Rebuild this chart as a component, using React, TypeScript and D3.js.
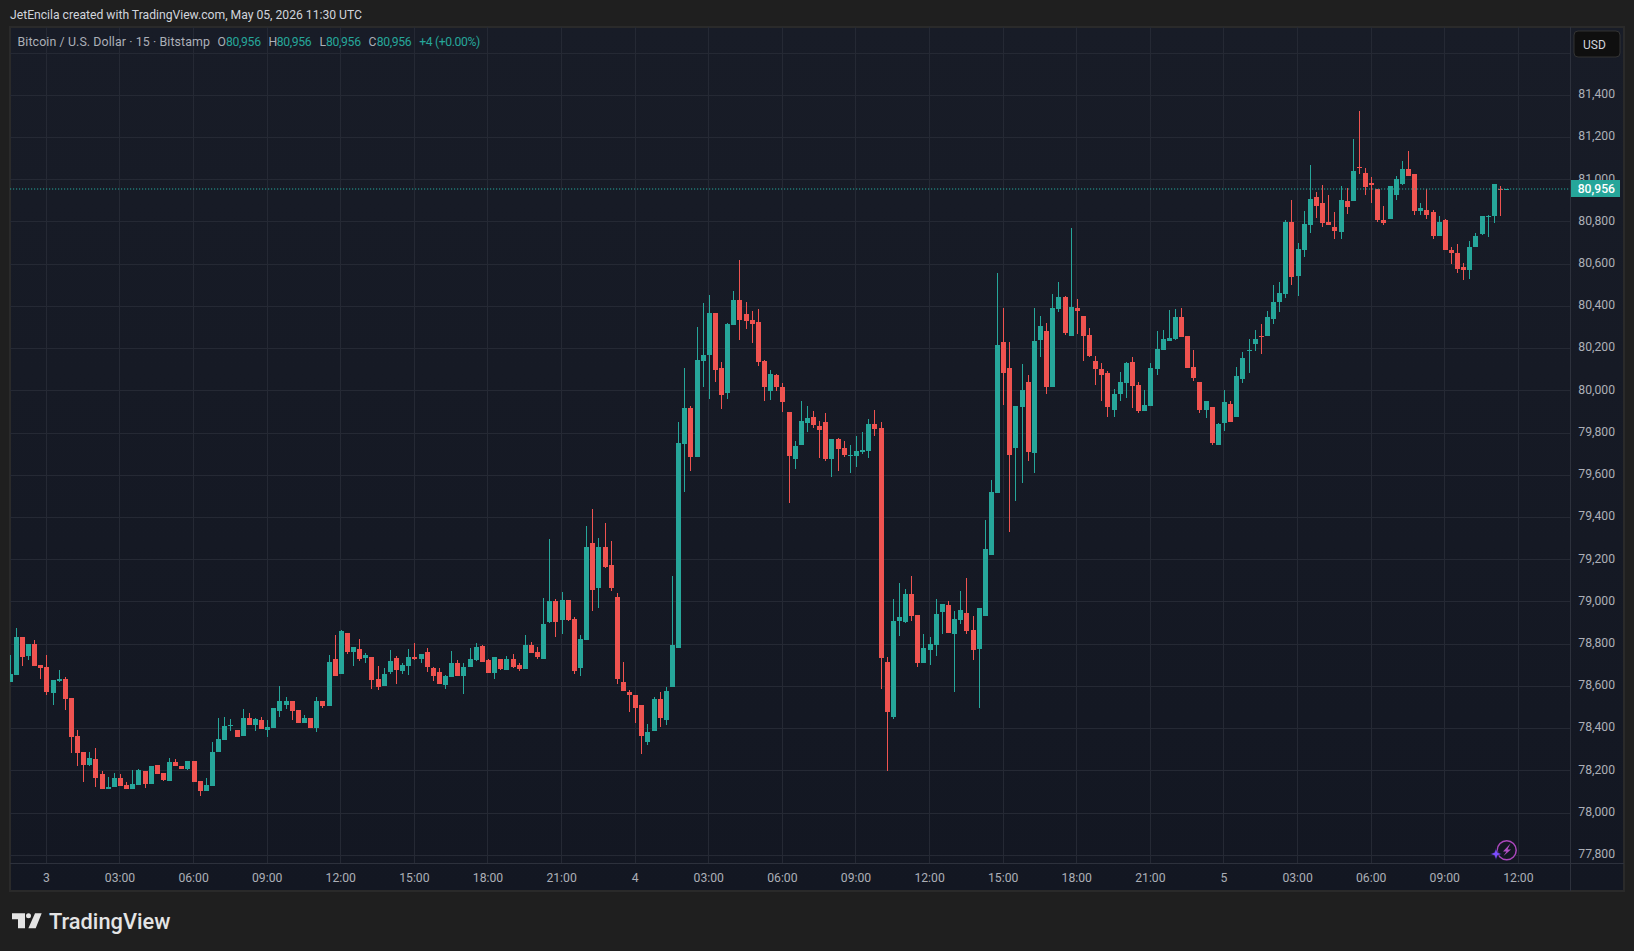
import * as d3 from 'd3';

const opens = [
  78621, 78654, 78835, 78744, 78802, 78702, 78692, 78568, 78625, 78635, 78544, 78363, 78287, 78230, 78254, 78187,
  78116, 78125, 78164, 78135, 78116, 78135, 78197, 78140, 78230, 78192, 78154, 78240, 78225, 78211, 78249, 78154,
  78106, 78130, 78287, 78344, 78411, 78392, 78363, 78449, 78416, 78440, 78392, 78402, 78483, 78511, 78530, 78487,
  78425, 78449, 78402, 78530, 78506, 78730, 78659, 78854, 78763, 78778, 78735, 78740, 78635, 78602, 78668, 78735,
  78673, 78697, 78740, 78730, 78764, 78687, 78668, 78606, 78645, 78711, 78649, 78692, 78725, 78792, 78725, 78664,
  78730, 78678, 78730, 78702, 78683, 78797, 78764, 78730, 78906, 79006, 78916, 79011, 78921, 78687, 78821, 79278,
  79068, 79259, 79173, 79025, 78621, 78573, 78559, 78511, 78335, 78387, 78540, 78440, 78597, 78783, 79749, 79921,
  79687, 80140, 80168, 80368, 80106, 79992, 80311, 80430, 80363, 80335, 80325, 80140, 79997, 80073, 80020, 79901,
  79678, 79744, 79849, 79878, 79835, 79854, 79678, 79773, 79730, 79692, 79692, 79711, 79716, 79844, 79825, 78716,
  78455, 78910, 78905, 79038, 78939, 78711, 78773, 78796, 78953, 78986, 78849, 78915, 78948, 78868, 78777, 78934,
  79223, 79516, 80230, 80106, 79730, 79925, 80040, 79706, 80240, 80283, 80016, 80387, 80444, 80259, 80392, 80354,
  80263, 80140, 80102, 80083, 79911, 79983, 80035, 80135, 80030, 79906, 79930, 80102, 80192, 80235, 80244, 80349,
  80259, 80111, 80044, 79911, 79925, 79745, 79849, 79940, 79878, 80054, 80187, 80221, 80259, 80259, 80340, 80421,
  80459, 80802, 80545, 80669, 80788, 80916, 80888, 80802, 80778, 80754, 80897, 80897, 81059, 81030, 80983, 80954,
  80811, 80816, 80930, 80978, 81049, 81026, 80850, 80859, 80845, 80735, 80811, 80669, 80654, 80588, 80573, 80683,
  80745, 80826, 80826, 80954, 80956,
];
const highs = [
  78749, 78878, 78835, 78802, 78821, 78702, 78749, 78630, 78678, 78644, 78544, 78392, 78287, 78287, 78306, 78197,
  78173, 78192, 78183, 78145, 78202, 78211, 78197, 78225, 78230, 78192, 78259, 78254, 78225, 78249, 78249, 78154,
  78168, 78335, 78449, 78454, 78444, 78392, 78492, 78473, 78449, 78454, 78440, 78497, 78602, 78549, 78530, 78487,
  78463, 78449, 78549, 78530, 78749, 78844, 78868, 78854, 78787, 78825, 78759, 78740, 78697, 78687, 78773, 78744,
  78711, 78778, 78806, 78754, 78783, 78692, 78687, 78654, 78768, 78725, 78711, 78783, 78806, 78797, 78730, 78740,
  78730, 78745, 78754, 78711, 78845, 78811, 78787, 79021, 79297, 79016, 79049, 79011, 78930, 78845, 79359, 79440,
  79302, 79373, 79287, 79043, 78716, 78583, 78559, 78511, 78421, 78549, 78573, 78597, 79125, 79854, 80106, 79930,
  80301, 80416, 80454, 80368, 80135, 80320, 80473, 80620, 80420, 80378, 80387, 80144, 80097, 80078, 80035, 79901,
  79763, 79954, 79930, 79906, 79859, 79897, 79773, 79778, 79763, 79744, 79787, 79806, 79868, 79911, 79854, 78740,
  79014, 79090, 79062, 79124, 78939, 78849, 78834, 79014, 78991, 79005, 78958, 79052, 79114, 78934, 78972, 79389,
  79579, 80559, 80392, 80230, 79930, 80125, 80073, 80392, 80354, 80321, 80459, 80516, 80449, 80773, 80435, 80354,
  80297, 80163, 80130, 80092, 80011, 80087, 80135, 80159, 80040, 80002, 80130, 80282, 80287, 80382, 80387, 80392,
  80259, 80192, 80044, 79954, 79925, 79849, 80002, 79954, 80111, 80183, 80244, 80287, 80316, 80378, 80502, 80516,
  80807, 80902, 80702, 80854, 81069, 80940, 80973, 80930, 80845, 80969, 80959, 81192, 81326, 81054, 81011, 80954,
  80878, 80969, 81016, 81088, 81135, 81026, 80892, 80954, 80859, 80826, 80816, 80683, 80697, 80607, 80711, 80750,
  80830, 80835, 80978, 80969, 80956,
];
const lows = [
  78621, 78654, 78697, 78725, 78697, 78635, 78559, 78511, 78621, 78487, 78283, 78221, 78149, 78225, 78125, 78116,
  78116, 78125, 78130, 78116, 78116, 78135, 78121, 78140, 78187, 78154, 78154, 78221, 78211, 78206, 78149, 78083,
  78106, 78130, 78287, 78344, 78387, 78359, 78363, 78416, 78387, 78397, 78359, 78402, 78454, 78492, 78440, 78425,
  78425, 78402, 78383, 78497, 78506, 78649, 78659, 78754, 78697, 78721, 78711, 78587, 78583, 78602, 78659, 78611,
  78659, 78654, 78725, 78711, 78668, 78625, 78611, 78587, 78645, 78649, 78564, 78692, 78721, 78716, 78664, 78635,
  78678, 78678, 78687, 78673, 78683, 78759, 78730, 78730, 78902, 78835, 78849, 78911, 78659, 78649, 78821, 78959,
  78973, 79159, 79054, 78611, 78578, 78478, 78426, 78278, 78321, 78387, 78407, 78416, 78597, 78783, 79521, 79621,
  79687, 80020, 79963, 80044, 79916, 79963, 80311, 80240, 80292, 80225, 80116, 79954, 79959, 80001, 79901, 79468,
  79630, 79744, 79806, 79825, 79682, 79668, 79592, 79621, 79687, 79611, 79640, 79702, 79682, 79787, 78588, 78199,
  78446, 78839, 78901, 78910, 78692, 78711, 78702, 78744, 78849, 78853, 78574, 78896, 78849, 78725, 78498, 78934,
  79223, 79516, 79935, 79330, 79478, 79564, 79668, 79611, 80159, 79987, 80016, 80373, 80263, 80259, 80268, 80140,
  80159, 80030, 79954, 79878, 79878, 79954, 79964, 79921, 79897, 79906, 79930, 80073, 80192, 80235, 80240, 80254,
  80106, 80049, 79897, 79873, 79745, 79745, 79811, 79854, 79878, 80035, 80083, 80187, 80173, 80259, 80316, 80373,
  80440, 80502, 80450, 80635, 80750, 80821, 80778, 80788, 80721, 80721, 80840, 80897, 81026, 80926, 80892, 80802,
  80788, 80816, 80902, 80973, 81016, 80835, 80835, 80816, 80721, 80735, 80669, 80602, 80559, 80526, 80531, 80683,
  80740, 80730, 80797, 80826, 80956,
];
const closes = [
  78659, 78835, 78740, 78802, 78697, 78687, 78573, 78630, 78635, 78540, 78359, 78283, 78230, 78259, 78164, 78116,
  78125, 78168, 78130, 78116, 78140, 78206, 78140, 78221, 78187, 78159, 78240, 78221, 78211, 78249, 78149, 78106,
  78135, 78287, 78349, 78411, 78416, 78359, 78449, 78416, 78444, 78397, 78406, 78497, 78530, 78530, 78483, 78425,
  78449, 78402, 78530, 78506, 78716, 78649, 78863, 78763, 78787, 78730, 78749, 78630, 78597, 78659, 78721, 78678,
  78702, 78740, 78730, 78754, 78692, 78649, 78611, 78649, 78711, 78649, 78692, 78730, 78787, 78716, 78664, 78740,
  78683, 78730, 78692, 78683, 78797, 78759, 78740, 78897, 79006, 78906, 79011, 78916, 78673, 78825, 79259, 79059,
  79259, 79168, 79064, 78635, 78578, 78559, 78497, 78364, 78383, 78540, 78449, 78578, 78797, 79754, 79921, 79687,
  80144, 80168, 80368, 80097, 79982, 80316, 80430, 80335, 80330, 80316, 80135, 80020, 80078, 80016, 79949, 79692,
  79740, 79859, 79873, 79840, 79816, 79678, 79773, 79725, 79697, 79697, 79716, 79721, 79844, 79821, 78735, 78479,
  78910, 78929, 79038, 78934, 78711, 78782, 78801, 78943, 78991, 78853, 78920, 78962, 78863, 78773, 78972, 79251,
  79522, 80216, 80083, 79697, 79930, 80006, 79711, 80235, 80306, 80016, 80392, 80444, 80273, 80397, 80378, 80259,
  80163, 80102, 80073, 79925, 79987, 80040, 80130, 80025, 79906, 79935, 80106, 80197, 80244, 80249, 80349, 80254,
  80106, 80059, 79911, 79954, 79754, 79844, 79945, 79854, 80068, 80154, 80192, 80244, 80254, 80349, 80421, 80464,
  80802, 80540, 80673, 80792, 80911, 80878, 80797, 80788, 80759, 80902, 80869, 81040, 81054, 80964, 80973, 80811,
  80797, 80969, 81002, 81049, 81016, 80854, 80864, 80831, 80735, 80802, 80669, 80654, 80578, 80573, 80683, 80735,
  80830, 80830, 80978, 80950, 80956,
];

const priceTicks = [77800, 78000, 78200, 78400, 78600, 78800, 79000, 79200, 79400, 79600, 79800, 80000, 80200, 80400, 80600, 80800, 81000, 81200, 81400];
const lastPrice = 80956;

const firstBar = new Date(Date.UTC(2026, 4, 2, 22, 30));
const lastBar = new Date(Date.UTC(2026, 4, 5, 11, 30));
const firstTick = new Date(Date.UTC(2026, 4, 3, 0, 0));
const tickEnd = new Date(Date.UTC(2026, 4, 5, 12, 1));

const W = 1634;
const H = 951;
const plotL = 10;
const plotR = 1570;
const plotT = 27;
const plotB = 863;
const panelR = 1624;
const panelB = 891;

const UP = '#26a69a';
const DOWN = '#ef5350';
const GRID = '#252934';
const AXIS = '#2d313c';
const LABEL = '#acafb7';
const FONT = 'Roboto, "Noto Sans", sans-serif';

const x = d3.scaleUtc().domain([firstBar, lastBar]).range([9.6, 1506.13]);
const y = d3.scaleLinear().domain([77800, 81400]).range([855.3, 95.3]);

const fmtPrice = d3.format(',');
const fmtHour = d3.utcFormat('%H:%M');
const timeTicks = d3.utcHour.range(firstTick, tickEnd, 3);
const timeLabel = (d: Date) => (d.getUTCHours() === 0 ? String(d.getUTCDate()) : fmtHour(d));
const barTime = (i: number) => d3.utcMinute.offset(firstBar, i * 15);

const legendItems = [
  { x: 217.5, t: 'O', c: LABEL },
  { x: 226, t: fmtPrice(lastPrice), c: UP, w: 35 },
  { x: 268.5, t: 'H', c: LABEL },
  { x: 276.7, t: fmtPrice(lastPrice), c: UP, w: 35 },
  { x: 319.5, t: 'L', c: LABEL },
  { x: 326, t: fmtPrice(lastPrice), c: UP, w: 35 },
  { x: 368.5, t: 'C', c: LABEL },
  { x: 376.7, t: fmtPrice(lastPrice), c: UP, w: 35 },
  { x: 419.3, t: '+4 (+0.00%)', c: UP, w: 61 },
];

function Candles() {
  return (
    <g clipPath="url(#plot)" shapeRendering="crispEdges">
      {opens.map((o, i) => {
        const c = closes[i];
        const col = c >= o ? UP : DOWN;
        const cx = Math.round(x(barTime(i)));
        const top = Math.round(y(Math.max(o, c)));
        const bot = Math.round(y(Math.min(o, c)));
        const hi = Math.round(y(highs[i]));
        const lo = Math.round(y(lows[i]));
        return (
          <g key={i} fill={col}>
            <rect x={cx} y={hi} width={1} height={Math.max(lo - hi, 1)} />
            <rect x={cx - 2} y={top} width={5} height={Math.max(bot - top, 1)} />
          </g>
        );
      })}
    </g>
  );
}

export default function App() {
  const lastY = Math.floor(y(lastPrice));
  return (
    <svg
      width={W}
      height={H}
      viewBox={`0 0 ${W} ${H}`}
      style={{ position: 'absolute', left: 0, top: 0, display: 'block' }}
    >
      <defs>
        <linearGradient id="panelBg" x1="0" y1="0" x2="0" y2="1">
          <stop offset="0" stopColor="#181c27" />
          <stop offset="1" stopColor="#131722" />
        </linearGradient>
        <clipPath id="plot">
          <rect x={plotL} y={plotT} width={plotR - plotL} height={plotB - plotT} />
        </clipPath>
      </defs>

      <rect width={W} height={H} fill="#1f1f1f" />
      <rect
        x={plotL}
        y={plotT}
        width={panelR - plotL}
        height={panelB - plotT}
        fill="url(#panelBg)"
        stroke="#2a2a2a"
        strokeWidth={2}
      />

      <text x={10} y={19} fontFamily={FONT} fontSize={12.2} fill="#d1d4dc" textLength={352}>
        JetEncila created with TradingView.com, May 05, 2026 11:30 UTC
      </text>

      {/* Grid */}
      <g stroke={GRID} strokeWidth={1} shapeRendering="crispEdges">
        {[...priceTicks, 81600].map((p) => (
          <line key={p} x1={plotL} x2={plotR} y1={Math.floor(y(p)) + 0.5} y2={Math.floor(y(p)) + 0.5} />
        ))}
        {timeTicks.map((t) => (
          <line key={+t} x1={Math.floor(x(t)) + 0.5} x2={Math.floor(x(t)) + 0.5} y1={plotT} y2={plotB} />
        ))}
      </g>

      {/* Axis borders */}
      <g stroke={AXIS} strokeWidth={1} shapeRendering="crispEdges">
        <line x1={plotR + 0.5} x2={plotR + 0.5} y1={plotT} y2={panelB} />
        <line x1={plotL} x2={panelR} y1={plotB + 0.5} y2={plotB + 0.5} />
      </g>

      <Candles />

      {/* Last price line */}
      <line
        x1={plotL}
        x2={plotR}
        y1={lastY}
        y2={lastY}
        stroke={UP}
        strokeWidth={1.2}
        strokeDasharray="1.2 1.8"
      />

      {/* Legend */}
      <text x={17.5} y={46} fontFamily={FONT} fontSize={12.4} fill={LABEL} textLength={192.5}>
        Bitcoin / U.S. Dollar · 15 · Bitstamp
      </text>
      {legendItems.map((d, i) => (
        <text key={i} x={d.x} y={46} fontFamily={FONT} fontSize={12.2} fill={d.c} textLength={d.w}>
          {d.t}
        </text>
      ))}

      {/* Price axis */}
      {priceTicks.map((p) => (
        <text key={p} x={1615} y={y(p) + 2.8} textAnchor="end" fontFamily={FONT} fontSize={12.2} fill={LABEL}>
          {fmtPrice(p)}
        </text>
      ))}
      <rect x={plotR + 1} y={180} width={49} height={17} fill={UP} />
      <text x={1615} y={192.8} textAnchor="end" fontFamily={FONT} fontSize={12.2} fontWeight={500} fill="#ffffff">
        {fmtPrice(lastPrice)}
      </text>

      {/* Time axis */}
      {timeTicks.map((t) => (
        <text key={+t} x={x(t)} y={882} textAnchor="middle" fontFamily={FONT} fontSize={12.2} fill={LABEL}>
          {timeLabel(t)}
        </text>
      ))}

      {/* Currency button */}
      <rect x={1574} y={31} width={46} height={26} rx={4} fill="#0f0f0f" stroke="#333333" />
      <text x={1583} y={48.5} fontFamily={FONT} fontSize={12} fill="#d1d4dc">
        USD
      </text>

      {/* Bolt badge */}
      <circle cx={1506.7} cy={850.3} r={9.5} fill="#131722" stroke="#ab47bc" strokeWidth={1.5} />
      <path d="M1510.5 843.5 L1503 851.5 L1506.5 851.5 L1503.5 856 L1511 849.5 L1507.5 849.5 Z" fill="#b14fc4" />
      <path d="M1496 848 L1497.6 852.4 L1502 854 L1497.6 855.6 L1496 860 L1494.4 855.6 L1490 854 L1494.4 852.4 Z" fill="#7c4dff" stroke="#131722" strokeWidth={0.6} />

      {/* TradingView logo */}
      <g fill="#e4e4e4">
        <path d="M12 913.3 H25 V928.3 H18 V919.3 H12 Z" />
        <circle cx={28.5} cy={915.8} r={2.5} />
        <path d="M35 913.3 H41.7 L35.7 928.3 H28.4 Z" />
      </g>
      <text x={49} y={929} fontFamily={FONT} fontSize={21.8} fontWeight={500} fill="#e4e4e4">
        TradingView
      </text>
    </svg>
  );
}
